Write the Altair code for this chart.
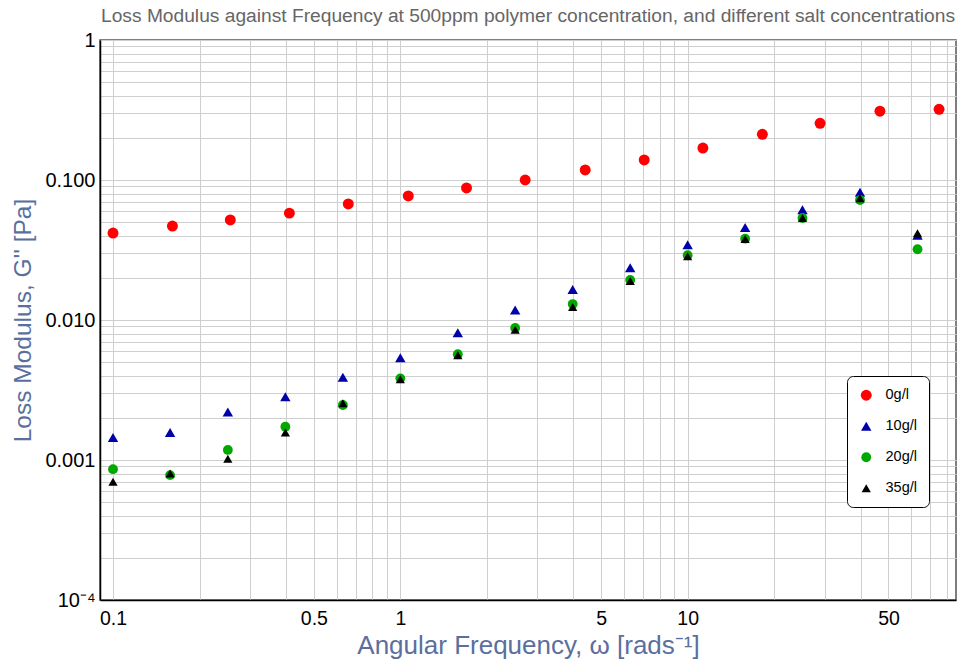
import altair as alt
import pandas as pd

# ---- data ----
series = ["0g/l", "10g/l", "20g/l", "35g/l"]
colors = ["#ff0000", "#0000a8", "#00a800", "#000000"]
shapes = ["circle", "triangle-up", "circle", "triangle-up"]
sizes = [120, 85, 120, 85]

freq_0 = [0.1, 0.161, 0.256, 0.411, 0.659, 1.066, 1.70, 2.72, 4.40, 7.06,
          11.3, 18.2, 28.9, 46.7, 75.0]
g_0 = [0.0418, 0.0469, 0.0518, 0.058, 0.0674, 0.0769, 0.0877, 0.100, 0.118,
       0.139, 0.169, 0.212, 0.254, 0.310, 0.320]

freq_s = [0.1, 0.158, 0.251, 0.398, 0.631, 1.0, 1.585, 2.51, 3.98, 6.31,
          10.0, 15.85, 25.1, 39.8, 63.1]
g_10 = [0.00145, 0.00157, 0.0022, 0.00283, 0.0039, 0.00538, 0.0081, 0.0118,
        0.0165, 0.0236, 0.0345, 0.0457, 0.0614, 0.0817, 0.0403]
g_20 = [0.00086, 0.00078, 0.00118, 0.00173, 0.00247, 0.00383, 0.00569,
        0.00877, 0.0130, 0.0193, 0.0290, 0.0381, 0.0535, 0.0720, 0.0320]
g_35 = [0.00070, 0.00080, 0.00102, 0.00157, 0.00254, 0.00377, 0.00560,
        0.0085, 0.0124, 0.0190, 0.0285, 0.0379, 0.0535, 0.0740, 0.0416]

x_label_values = [0.1, 0.5, 1, 5, 10, 50]
x_label_texts = ["0.1", "0.5", "1", "5", "10", "50"]
y_label_values = [1e-4, 1e-3, 1e-2, 1e-1, 1]
y_label_texts = ["10\u207b\u2074", "0.001", "0.010", "0.100", "1"]

x_grid = [k * 10 ** e for e in (-1, 0, 1) for k in range(1, 10) if k * 10 ** e < 86]
y_grid = [k * 10 ** e for e in (-4, -3, -2, -1) for k in range(1, 10)] + [1]

# ---- build table ----
rows = []
for s, fx, gy in [(series[0], freq_0, g_0), (series[1], freq_s, g_10),
                  (series[2], freq_s, g_20), (series[3], freq_s, g_35)]:
    for f, g in zip(fx, gy):
        rows.append({"freq": f, "G": g, "series": s})
df = pd.DataFrame(rows)


def label_expr(values, texts):
    expr = "''"
    for v, t in zip(values, texts):
        expr = f"abs(datum.value/{v} - 1) < 0.001 ? '{t}' : ({expr})"
    return expr


FONT = "Liberation Sans"
TITLE_COLOR = "#5b6f9e"

legend = alt.Legend(
    title=None, orient="none", legendX=747, legendY=336,
    padding=12, strokeColor="black", fillColor="white", cornerRadius=6,
    labelFontSize=14.5, labelFont=FONT, labelColor="black", rowPadding=16,
    labelOffset=12, symbolStrokeWidth=0,
)

chart = alt.Chart(df).mark_point(filled=True, opacity=1).encode(
    x=alt.X("freq:Q",
            scale=alt.Scale(type="log", domain=[0.0901, 85.9], nice=False),
            axis=alt.Axis(values=x_grid, labelExpr=label_expr(x_label_values, x_label_texts),
                          labelOverlap=False, labelFlush=False, ticks=False,
                          labelPadding=9, labelFontSize=19.5, labelFont=FONT,
                          labelColor="black", domainColor="black", domainWidth=1.5,
                          grid=True, gridColor="#cfcfcf", gridWidth=1,
                          title="Angular Frequency, \u03c9 [rads\u207b\u00b9]",
                          titleFontSize=26, titleFont=FONT, titleFontWeight="normal",
                          titleColor=TITLE_COLOR, titlePadding=5)),
    y=alt.Y("G:Q",
            scale=alt.Scale(type="log", domain=[1e-4, 1], nice=False),
            axis=alt.Axis(values=y_grid, labelExpr=label_expr(y_label_values, y_label_texts),
                          labelOverlap=False, labelFlush=False, ticks=False,
                          labelPadding=5, labelFontSize=20, labelFont=FONT,
                          labelColor="black", domainColor="black", domainWidth=1.5,
                          grid=True, gridColor="#cfcfcf", gridWidth=1,
                          title="Loss Modulus, G''  [Pa]",
                          titleFontSize=24.5, titleFont=FONT, titleFontWeight="normal",
                          titleColor=TITLE_COLOR, titlePadding=9)),
    color=alt.Color("series:N", scale=alt.Scale(domain=series, range=colors), legend=legend),
    shape=alt.Shape("series:N", scale=alt.Scale(domain=series, range=shapes), legend=legend),
    size=alt.Size("series:N", scale=alt.Scale(domain=series, range=sizes), legend=legend),
).properties(
    width=856, height=560,
    autosize=alt.AutoSizeParams(type="none"),
    padding={"left": 100, "top": 40, "right": 3, "bottom": 67},
    title=alt.TitleParams(
        "Loss Modulus against Frequency at 500ppm polymer concentration, and different salt concentrations",
        fontSize=19.2, font=FONT, color="#666666", fontWeight="normal",
        anchor="middle", offset=4),
).configure_view(stroke="#555555", strokeWidth=1.5)

chart.save("out.html", embed_options={"renderer": "svg", "actions": False})
